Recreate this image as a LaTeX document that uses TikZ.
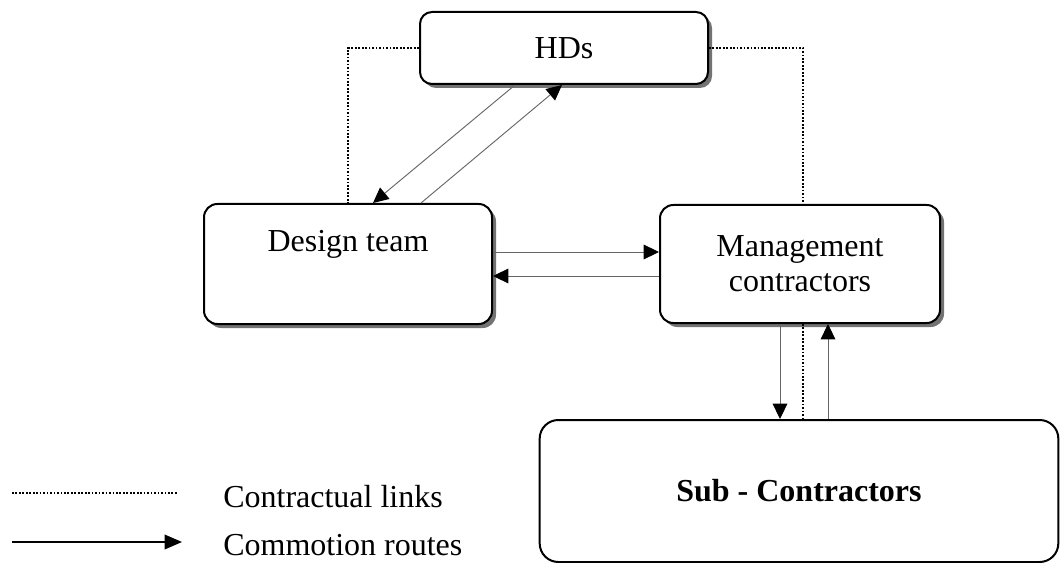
\documentclass[tikz,border=0pt]{standalone}
\usepackage{fontspec}
\setmainfont{Liberation Serif}
\usetikzlibrary{arrows.meta,shadows,calc}
\tikzset{
  party/.style={draw,line width=1.5pt,rounded corners=10pt,fill=white,align=center,inner sep=0pt},
  shaded/.style={drop shadow={shadow xshift=3pt,shadow yshift=-3pt,fill=black!55,opacity=1}},
  contract/.style={line width=1.8pt,dash pattern=on 1.3pt off 1.3pt},
  route/.style={draw=black!60,line width=0.7pt,-{Triangle[length=11.5pt,width=11pt,color=black]}},
}
\begin{document}
\begin{tikzpicture}[x=0.75pt,y=-0.75pt,font=\fontsize{24}{26.25}\selectfont]
\useasboundingbox (0,0) rectangle (1060,563);
\node[party,shaded,rounded corners=9pt,minimum width=216pt,minimum height=54pt] (hds) at (564,48) {HDs};
\node[party,shaded,minimum width=216pt,minimum height=90pt] (design) at (348,264) {Design team\\ \strut};
\node[party,shaded,minimum width=210pt,minimum height=88.5pt] (mgmt) at (800,264) {Management\\ contractors};
\node[party,rounded corners=14pt,minimum width=389pt,minimum height=106.5pt] (sub) at (799,491) {\textbf{Sub - Contractors}};

\draw[contract] (hds.west) -| (design.north);
\draw[contract] (hds.east) -| ($(mgmt.north)+(3,0)$);
\draw[contract] ($(mgmt.south)+(3,0)$) -- ($(sub.north)+(4,0)$);

\draw[route] ($(hds.south)+(-49,0)$) -- ($(design.north)+(25,0)$);
\draw[route] ($(design.north)+(73,0)$) -- ($(hds.south)+(-2,0)$);
\draw[route] ($(design.east)+(0,-12)$) -- ($(mgmt.west)+(0,-12)$);
\draw[route] ($(mgmt.west)+(0,12)$) -- ($(design.east)+(0,12)$);
\draw[route] ($(mgmt.south)+(-20,0)$) -- ($(sub.north)+(-19,0)$);
\draw[route] ($(sub.north)+(29,0)$) -- ($(mgmt.south)+(28,0)$);

\coordinate (la) at (12,493);
\coordinate (lb) at (177,493);
\coordinate (lc) at (12,542);
\coordinate (ld) at (182,542);
\draw[contract,line width=1.4pt] (la) -- (lb);
\draw[line width=1pt,-{Triangle[length=13pt,width=11pt]}] (lc) -- (ld);
\node[anchor=west,inner sep=0pt] (lcontract) at (223,497) {Contractual links};
\node[anchor=west,inner sep=0pt] (lroute) at (223,545) {Commotion routes};
\end{tikzpicture}
\end{document}
